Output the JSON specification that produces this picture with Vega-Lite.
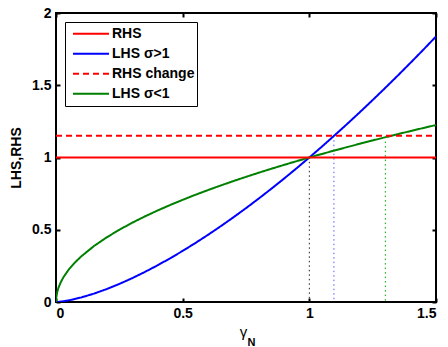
{
  "$schema": "https://vega.github.io/schema/vega-lite/v6.json",
  "autosize": {"type": "none"},
  "padding": {"left": 56, "top": 13, "right": 12, "bottom": 45},
  "width": 380,
  "height": 289,
  "config": {
    "font": "Liberation Sans",
    "view": {"stroke": "black", "strokeWidth": 2, "fill": null},
    "style": {"guide-label": {"font": "Liberation Sans", "fontWeight": "bold", "fontSize": 14, "fill": "black"}, "guide-title": {"font": "Liberation Sans", "fontWeight": "bold", "fill": "black"}},
    "axis": {"grid": false, "domain": false, "format": "~g", "zindex": 1}
  },
  "datasets": {
    "curves": [
      {"x": 0, "s": "LHS σ>1", "y": 0}, {"x": 0.005, "s": "LHS σ>1", "y": 0.00035}, {"x": 0.01, "s": "LHS σ>1", "y": 0.001}, {"x": 0.02, "s": "LHS σ>1", "y": 0.00283}, {"x": 0.05, "s": "LHS σ>1", "y": 0.01118}, {"x": 0.1, "s": "LHS σ>1", "y": 0.03162}, {"x": 0.15, "s": "LHS σ>1", "y": 0.0581}, {"x": 0.2, "s": "LHS σ>1", "y": 0.0894}, {"x": 0.25, "s": "LHS σ>1", "y": 0.125}, {"x": 0.3, "s": "LHS σ>1", "y": 0.1643}, {"x": 0.35, "s": "LHS σ>1", "y": 0.2071}, {"x": 0.4, "s": "LHS σ>1", "y": 0.253}, {"x": 0.45, "s": "LHS σ>1", "y": 0.3019}, {"x": 0.5, "s": "LHS σ>1", "y": 0.3536}, {"x": 0.55, "s": "LHS σ>1", "y": 0.4079}, {"x": 0.6, "s": "LHS σ>1", "y": 0.4648}, {"x": 0.65, "s": "LHS σ>1", "y": 0.524}, {"x": 0.7, "s": "LHS σ>1", "y": 0.5857}, {"x": 0.75, "s": "LHS σ>1", "y": 0.6495}, {"x": 0.8, "s": "LHS σ>1", "y": 0.7155}, {"x": 0.85, "s": "LHS σ>1", "y": 0.7837}, {"x": 0.9, "s": "LHS σ>1", "y": 0.8538}, {"x": 0.95, "s": "LHS σ>1", "y": 0.9259}, {"x": 1.0, "s": "LHS σ>1", "y": 1.0}, {"x": 1.05, "s": "LHS σ>1", "y": 1.0759}, {"x": 1.1, "s": "LHS σ>1", "y": 1.1537}, {"x": 1.15, "s": "LHS σ>1", "y": 1.2332}, {"x": 1.2, "s": "LHS σ>1", "y": 1.3145}, {"x": 1.25, "s": "LHS σ>1", "y": 1.3975}, {"x": 1.3, "s": "LHS σ>1", "y": 1.4822}, {"x": 1.35, "s": "LHS σ>1", "y": 1.5685}, {"x": 1.4, "s": "LHS σ>1", "y": 1.6565}, {"x": 1.45, "s": "LHS σ>1", "y": 1.746}, {"x": 1.5, "s": "LHS σ>1", "y": 1.8371},
      {"x": 0, "s": "LHS σ<1", "y": 0}, {"x": 0.001, "s": "LHS σ<1", "y": 0.0316}, {"x": 0.005, "s": "LHS σ<1", "y": 0.0707}, {"x": 0.01, "s": "LHS σ<1", "y": 0.1}, {"x": 0.02, "s": "LHS σ<1", "y": 0.1414}, {"x": 0.03, "s": "LHS σ<1", "y": 0.1732}, {"x": 0.05, "s": "LHS σ<1", "y": 0.2236}, {"x": 0.075, "s": "LHS σ<1", "y": 0.2739}, {"x": 0.1, "s": "LHS σ<1", "y": 0.3162}, {"x": 0.15, "s": "LHS σ<1", "y": 0.3873}, {"x": 0.2, "s": "LHS σ<1", "y": 0.4472}, {"x": 0.25, "s": "LHS σ<1", "y": 0.5}, {"x": 0.3, "s": "LHS σ<1", "y": 0.5477}, {"x": 0.35, "s": "LHS σ<1", "y": 0.5916}, {"x": 0.4, "s": "LHS σ<1", "y": 0.6325}, {"x": 0.45, "s": "LHS σ<1", "y": 0.6708}, {"x": 0.5, "s": "LHS σ<1", "y": 0.7071}, {"x": 0.55, "s": "LHS σ<1", "y": 0.7416}, {"x": 0.6, "s": "LHS σ<1", "y": 0.7746}, {"x": 0.65, "s": "LHS σ<1", "y": 0.8062}, {"x": 0.7, "s": "LHS σ<1", "y": 0.8367}, {"x": 0.75, "s": "LHS σ<1", "y": 0.866}, {"x": 0.8, "s": "LHS σ<1", "y": 0.8944}, {"x": 0.85, "s": "LHS σ<1", "y": 0.922}, {"x": 0.9, "s": "LHS σ<1", "y": 0.9487}, {"x": 0.95, "s": "LHS σ<1", "y": 0.9747}, {"x": 1.0, "s": "LHS σ<1", "y": 1.0}, {"x": 1.05, "s": "LHS σ<1", "y": 1.0247}, {"x": 1.1, "s": "LHS σ<1", "y": 1.0488}, {"x": 1.15, "s": "LHS σ<1", "y": 1.0724}, {"x": 1.2, "s": "LHS σ<1", "y": 1.0954}, {"x": 1.25, "s": "LHS σ<1", "y": 1.118}, {"x": 1.3, "s": "LHS σ<1", "y": 1.1402}, {"x": 1.35, "s": "LHS σ<1", "y": 1.1619}, {"x": 1.4, "s": "LHS σ<1", "y": 1.1832}, {"x": 1.45, "s": "LHS σ<1", "y": 1.2042}, {"x": 1.5, "s": "LHS σ<1", "y": 1.2247},
      {"x": 0, "s": "RHS", "y": 1}, {"x": 1.5, "s": "RHS", "y": 1},
      {"x": 0, "s": "RHS change", "y": 1.15}, {"x": 1.5, "s": "RHS change", "y": 1.15}
    ],
    "drops": [
      {"x": 1.0, "top": 0.97, "k": "base"},
      {"x": 1.097, "top": 1.12, "k": "high"},
      {"x": 1.3, "top": 1.11, "k": "low"}
    ]
  },
  "layer": [
    {
      "data": {"name": "drops"},
      "transform": [{"filter": "datum.k == 'base'"}],
      "mark": {"type": "rule", "color": "#222222", "strokeWidth": 1, "strokeDash": [1.5, 3]},
      "encoding": {
        "x": {"field": "x", "type": "quantitative", "scale": {"domain": [0, 1.5], "nice": false}, "axis": {"orient": "bottom", "values": [0, 0.5, 1, 1.5], "ticks": true, "tickColor": "#000000", "tickWidth": 2, "tickSize": 4, "offset": -4, "labelPadding": 4, "title": "γ", "titleFontSize": 15, "titleFontWeight": "normal", "titlePadding": 4, "titleX": 187}},
        "y": {"field": "top", "type": "quantitative", "scale": {"domain": [0, 2], "nice": false}, "axis": {"orient": "left", "values": [0, 0.5, 1, 1.5, 2], "ticks": true, "tickColor": "#000000", "tickWidth": 2, "tickSize": 4, "offset": -4, "labelPadding": 5, "title": "LHS,RHS", "titleFontSize": 14, "titlePadding": 8}},
        "y2": {"datum": 0}
      }
    },
    {
      "data": {"name": "drops"},
      "transform": [{"filter": "datum.k == 'high'"}],
      "mark": {"type": "rule", "color": "#5a5aff", "strokeWidth": 1, "strokeDash": [1.5, 3]},
      "encoding": {
        "x": {"field": "x", "type": "quantitative", "axis": {"orient": "top", "values": [0, 0.5, 1, 1.5], "ticks": true, "tickColor": "#000000", "tickWidth": 2, "tickSize": 4, "offset": -4, "labels": false, "title": null}},
        "y": {"field": "top", "type": "quantitative", "axis": {"orient": "right", "values": [0, 0.5, 1, 1.5, 2], "ticks": true, "tickColor": "#000000", "tickWidth": 2, "tickSize": 4, "offset": -4, "labels": false, "title": null}},
        "y2": {"datum": 0}
      }
    },
    {
      "data": {"name": "drops"},
      "transform": [{"filter": "datum.k == 'low'"}],
      "mark": {"type": "rule", "color": "#00a000", "strokeWidth": 1, "strokeDash": [1.5, 3]},
      "encoding": {
        "x": {"field": "x", "type": "quantitative", "axis": {"orient": "bottom", "labels": false, "ticks": false, "title": "N", "titleFontSize": 11, "titleX": 195, "titleY": 43, "titleBaseline": "alphabetic", "titleAngle": 0}},
        "y": {"field": "top", "type": "quantitative", "axis": null},
        "y2": {"datum": 0}
      }
    },
    {
      "data": {"name": "curves"},
      "mark": {"type": "line", "strokeWidth": 2, "clip": true},
      "encoding": {
        "x": {"field": "x", "type": "quantitative", "axis": null},
        "y": {"field": "y", "type": "quantitative", "axis": null},
        "color": {"field": "s", "type": "nominal", "sort": ["RHS", "LHS σ>1", "RHS change", "LHS σ<1"],
          "scale": {"domain": ["RHS", "LHS σ>1", "RHS change", "LHS σ<1"], "range": ["#ff0000", "#0000ff", "#ff0000", "#008000"]},
          "legend": {"title": null, "orient": "none", "legendX": 9, "legendY": 9, "symbolType": "stroke", "symbolSize": 1296, "symbolStrokeWidth": 2, "symbolOffset": 5, "clipHeight": 19.3, "labelFont": "Liberation Sans", "labelFontWeight": "bold", "labelFontSize": 14, "labelColor": "black", "labelOffset": 2, "padding": 2, "rowPadding": 0, "strokeColor": "black", "fillColor": "white", "cornerRadius": 0, "zindex": 2}},
        "strokeDash": {"field": "s", "type": "nominal",
          "scale": {"domain": ["RHS", "LHS σ>1", "RHS change", "LHS σ<1"], "range": [[1, 0], [1, 0], [6, 4], [1, 0]]}},
        "order": {"field": "x", "type": "quantitative"}
      }
    }
  ],
  "resolve": {"axis": {"x": "independent", "y": "independent"}}
}
